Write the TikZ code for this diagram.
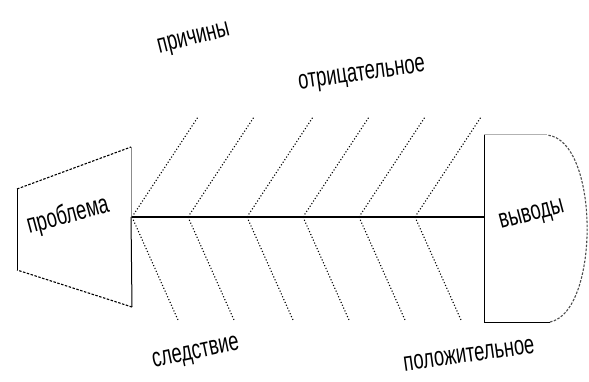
\documentclass[tikz,border=0pt]{standalone}
\usepackage{fontspec}
\setmainfont{Liberation Sans}[FakeStretch=0.68]
\begin{document}
\begin{tikzpicture}[x=1pt,y=-1pt,
  lbl/.style={font=\fontsize{27}{27}\selectfont, inner sep=0pt},
  bone/.style={black, line width=1.1pt, dotted},
  spine/.style={black, line width=1.6pt},
  edge/.style={black, line width=1pt},
  dedge/.style={black, line width=1.1pt, dash pattern=on 2.5pt off 1.5pt}]
\useasboundingbox (0,0) rectangle (589,382);
% tail
\coordinate (t1) at (17,189);
\coordinate (t2) at (131,147);
\coordinate (t3) at (132,307);
\coordinate (t4) at (17,270);
\draw[edge] (t4) -- (t1);
\draw[dedge] (t1) -- (t2);
\draw[edge, black!45] (t2) -- (131,217);
\draw[edge] (131,217) -- (t3);
\draw[dedge] (t3) -- (t4);
% head
\coordinate (h1) at (547,135);
\coordinate (h2) at (484,135);
\coordinate (h3) at (484,322);
\coordinate (h4) at (550,322);
\draw[edge, black!30] (h1) -- (h2);
\draw[edge] (h2) -- (h3) -- (h4);
\draw[dedge, black!70] (h4) .. controls (600,312) and (600,140) .. (h1);
% spine
\coordinate (s0) at (132,217);
\coordinate (s1) at (484,217);
\draw[spine] (s0) -- (s1);
% bones
\foreach \x [count=\i] in {132,188,247,303,359,415}{
  \coordinate (a\i) at (\x,217);
  \coordinate (u\i) at (\x+66,117);
  \coordinate (d\i) at (\x+46,320);
  \draw[bone] (a\i) -- (u\i);
  \draw[bone] (a\i) -- (d\i);
}
% labels
\node[lbl, rotate=15] (pr) at (68,216) {проблема};
\node[lbl, rotate=15] (vy) at (532,216) {выводы};
\node[lbl, rotate=14] (pc) at (194,40) {причины};
\node[lbl, rotate=8] (ot) at (362,76) {отрицательное};
\node[lbl, rotate=12] (sl) at (196,354) {следствие};
\node[lbl, rotate=8] (po) at (469,355) {положительное};
\end{tikzpicture}
\end{document}
